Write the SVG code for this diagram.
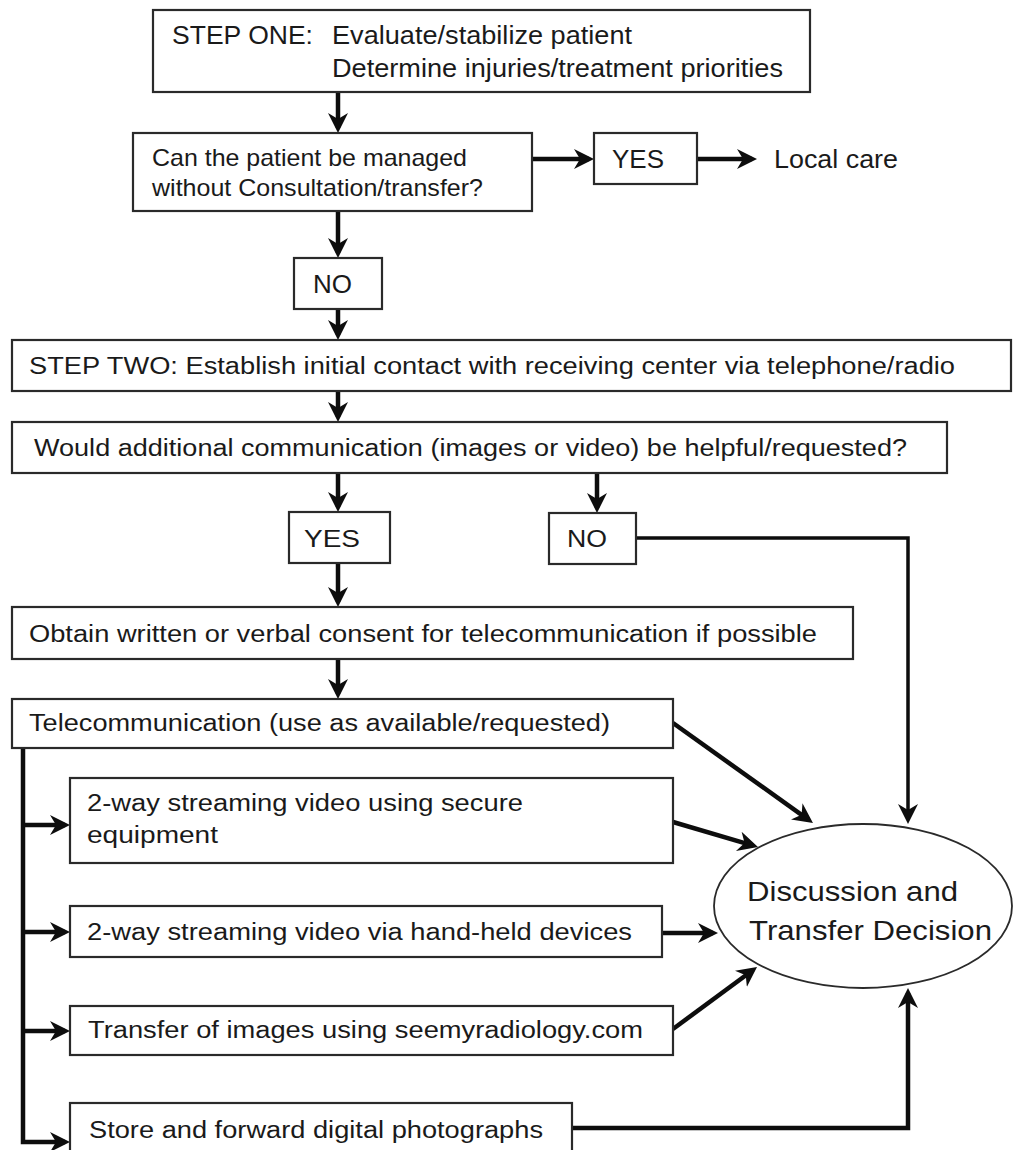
<svg xmlns="http://www.w3.org/2000/svg" width="1013" height="1150" viewBox="0 0 1013 1150">
<style>
.box{fill:#fff;stroke:#2a2a2a;stroke-width:2.2}
.ell{fill:#fff;stroke:#2a2a2a;stroke-width:1.8}
text{font-family:"Liberation Sans",Arial,sans-serif;fill:#1a1a1a}
.t26{font-size:26px}
.t25{font-size:25px}
.t24{font-size:24px}
.t23{font-size:23px}
.t28{font-size:28px}
.c{fill:none;stroke:#0d0d0d;stroke-width:4.5;stroke-linejoin:miter}
.ct{fill:none;stroke:#0d0d0d;stroke-width:3.5}
</style>
<defs>
<marker id="ah" markerUnits="userSpaceOnUse" markerWidth="24" markerHeight="22" refX="15" refY="11" orient="auto">
<path d="M0,1 L20,11 L0,21 L6,11 z" fill="#0d0d0d"/>
</marker>
</defs>
<rect width="1013" height="1150" fill="#fff"/>

<g id="connectors">
<path class="c" d="M338,93 V128" marker-end="url(#ah)"/>
<path class="c" d="M338,211 V253" marker-end="url(#ah)"/>
<path class="c" d="M338,309 V335" marker-end="url(#ah)"/>
<path class="c" d="M532,159 H589" marker-end="url(#ah)"/>
<path class="c" d="M697,159 H752" marker-end="url(#ah)"/>
<path class="c" d="M338,391 V417" marker-end="url(#ah)"/>
<path class="c" d="M338,473 V507" marker-end="url(#ah)"/>
<path class="c" d="M597,473 V508" marker-end="url(#ah)"/>
<path class="c" d="M338,563 V602" marker-end="url(#ah)"/>
<path class="c" d="M338,659 V694" marker-end="url(#ah)"/>
<path class="ct" d="M636,538 H908 V819" marker-end="url(#ah)"/>
<path class="c" d="M23,748 V1142 H65" marker-end="url(#ah)"/>
<path class="c" d="M23,825 H65" marker-end="url(#ah)"/>
<path class="c" d="M23,932 H65" marker-end="url(#ah)"/>
<path class="c" d="M23,1031 H65" marker-end="url(#ah)"/>
<path class="c" d="M673,723 L808.9,820.1" marker-end="url(#ah)"/>
<path class="c" d="M673,822 L753.2,845.6" marker-end="url(#ah)"/>
<path class="c" d="M662,933 H713" marker-end="url(#ah)"/>
<path class="c" d="M673,1029 L753,970" marker-end="url(#ah)"/>
<path class="c" d="M572,1128 H908 V993" marker-end="url(#ah)"/>
</g>

<g id="step-one">
<rect class="box" x="153" y="10" width="657" height="82"/>
<text class="t26" x="172" y="44" textLength="141" lengthAdjust="spacingAndGlyphs">STEP ONE:</text>
<text class="t26" x="332" y="44" textLength="300" lengthAdjust="spacingAndGlyphs">Evaluate/stabilize patient</text>
<text class="t26" x="332" y="77" textLength="451" lengthAdjust="spacingAndGlyphs">Determine injuries/treatment priorities</text>
</g>

<g id="manage-question">
<rect class="box" x="133" y="133" width="399" height="78"/>
<text class="t24" x="152" y="166" textLength="315" lengthAdjust="spacingAndGlyphs">Can the patient be managed</text>
<text class="t24" x="152" y="196" textLength="331" lengthAdjust="spacingAndGlyphs">without Consultation/transfer?</text>
</g>

<g id="yes-top">
<rect class="box" x="594" y="133" width="103" height="51"/>
<text class="t25" x="612" y="168" textLength="52" lengthAdjust="spacingAndGlyphs">YES</text>
</g>

<g id="local-care">
<text class="t25" x="774" y="168" textLength="124" lengthAdjust="spacingAndGlyphs">Local care</text>
</g>

<g id="no-top">
<rect class="box" x="294" y="258" width="88" height="51"/>
<text class="t25" x="313" y="293" textLength="39" lengthAdjust="spacingAndGlyphs">NO</text>
</g>

<g id="step-two">
<rect class="box" x="12" y="340" width="999" height="51"/>
<text class="t23" x="29" y="374" textLength="926" lengthAdjust="spacingAndGlyphs">STEP TWO: Establish initial contact with receiving center via telephone/radio</text>
</g>

<g id="additional-question">
<rect class="box" x="12" y="422" width="935" height="51"/>
<text class="t23" x="34" y="456" textLength="873" lengthAdjust="spacingAndGlyphs">Would additional communication (images or video) be helpful/requested?</text>
</g>

<g id="yes-mid">
<rect class="box" x="289" y="512" width="101" height="51"/>
<text class="t24" x="304" y="547" textLength="56" lengthAdjust="spacingAndGlyphs">YES</text>
</g>

<g id="no-mid">
<rect class="box" x="549" y="513" width="87" height="51"/>
<text class="t24" x="567" y="547" textLength="40" lengthAdjust="spacingAndGlyphs">NO</text>
</g>

<g id="consent">
<rect class="box" x="12" y="607" width="841" height="52"/>
<text class="t23" x="29" y="642" textLength="788" lengthAdjust="spacingAndGlyphs">Obtain written or verbal consent for telecommunication if possible</text>
</g>

<g id="telecommunication">
<rect class="box" x="12" y="699" width="661" height="49"/>
<text class="t23" x="29" y="731" textLength="581" lengthAdjust="spacingAndGlyphs">Telecommunication (use as available/requested)</text>
</g>

<g id="secure-video">
<rect class="box" x="70" y="778" width="603" height="85"/>
<text class="t23" x="87" y="811" textLength="436" lengthAdjust="spacingAndGlyphs">2-way streaming video using secure</text>
<text class="t23" x="87" y="843" textLength="131" lengthAdjust="spacingAndGlyphs">equipment</text>
</g>

<g id="handheld-video">
<rect class="box" x="70" y="906" width="592" height="51"/>
<text class="t23" x="87" y="940" textLength="545" lengthAdjust="spacingAndGlyphs">2-way streaming video via hand-held devices</text>
</g>

<g id="image-transfer">
<rect class="box" x="70" y="1006" width="603" height="49"/>
<text class="t23" x="88" y="1038" textLength="555" lengthAdjust="spacingAndGlyphs">Transfer of images using seemyradiology.com</text>
</g>

<g id="store-forward">
<rect class="box" x="70" y="1103" width="502" height="52"/>
<text class="t23" x="89" y="1138" textLength="454" lengthAdjust="spacingAndGlyphs">Store and forward digital photographs</text>
</g>

<g id="decision">
<ellipse class="ell" cx="863" cy="906" rx="149" ry="82"/>
<text class="t28" x="747" y="901" textLength="211" lengthAdjust="spacingAndGlyphs">Discussion and</text>
<text class="t28" x="749" y="940" textLength="243" lengthAdjust="spacingAndGlyphs">Transfer Decision</text>
</g>
</svg>
